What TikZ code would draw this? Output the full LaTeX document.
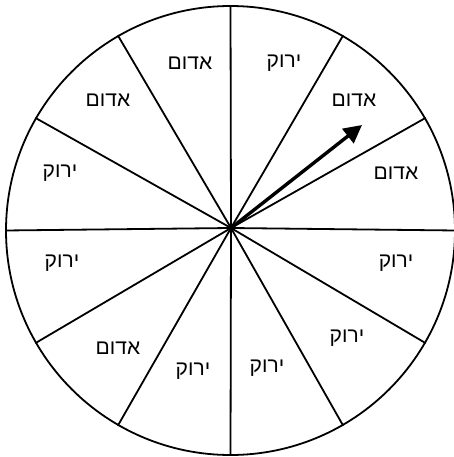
\documentclass[tikz,border=0pt]{standalone}
\usepackage{fontspec}
\newfontfamily\hebfont[Script=Hebrew]{Liberation Sans}
\TeXXeTstate=1
\usetikzlibrary{arrows.meta}
\begin{document}
\begin{tikzpicture}[x=1pt,y=-1pt,
  lbl/.style={font=\hebfont\fontsize{21}{21}\selectfont, inner sep=0pt},
  spoke/.style={line width=1.8pt},
  pointer/.style={line width=3.4pt, -{Triangle[length=18pt,width=18pt]}}]
\useasboundingbox (0,0) rectangle (454,457);
\coordinate (c) at (231,228);
\node[draw, circle, line width=1.8pt, minimum size=449pt, inner sep=0pt] (wheel) at (230.5,230.5) {};
\foreach \a in {0,30,...,330} {
  \draw[spoke] (c) -- (wheel.\a);
}
\node[lbl] (s1) at (190,63) {\beginR אדום\endR};
\node[lbl] (s2) at (108,100) {\beginR אדום\endR};
\node[lbl] (s3) at (60,173) {\beginR ירוק\endR};
\node[lbl] (s4) at (284,63) {\beginR ירוק\endR};
\node[lbl] (s5) at (354,100) {\beginR אדום\endR};
\node[lbl] (s6) at (396,173) {\beginR אדום\endR};
\node[lbl] (s7) at (62,263) {\beginR ירוק\endR};
\node[lbl] (s8) at (118,348) {\beginR אדום\endR};
\node[lbl] (s9) at (193,371) {\beginR ירוק\endR};
\node[lbl] (s10) at (267,368) {\beginR ירוק\endR};
\node[lbl] (s11) at (347,338) {\beginR ירוק\endR};
\node[lbl] (s12) at (396,263) {\beginR ירוק\endR};
\coordinate (tip) at (362,125);
\draw[pointer] (c) -- (tip);
\end{tikzpicture}
\end{document}
